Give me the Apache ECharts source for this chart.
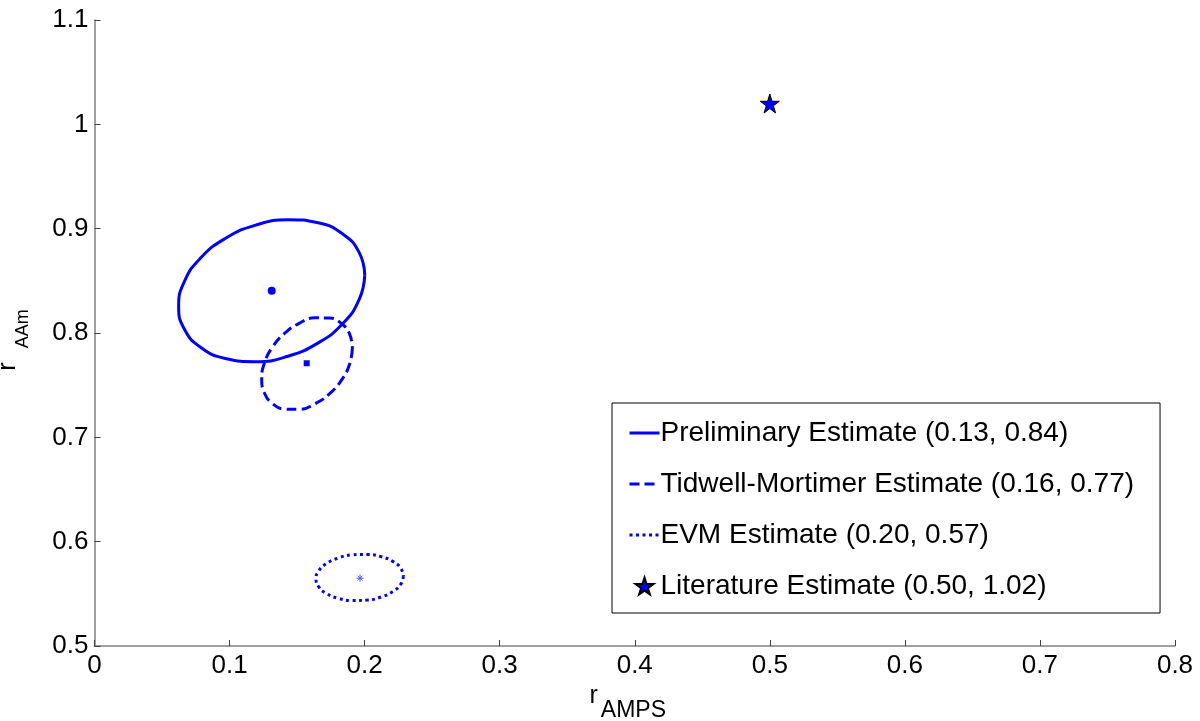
<!DOCTYPE html>
<html>
<head>
<meta charset="utf-8">
<script src="https://cdn.jsdelivr.net/npm/echarts@6/dist/echarts.min.js"></script>
<style>
  html, body { margin: 0; padding: 0; background: #fff; }
  #chart { width: 1200px; height: 721px; }
</style>
</head>
<body>
<div id="chart"></div>
<script>
// legend names
const seriesNames = [
  'Preliminary Estimate (0.13, 0.84)',
  'Tidwell-Mortimer Estimate (0.16, 0.77)',
  'EVM Estimate (0.20, 0.57)',
  'Literature Estimate (0.50, 1.02)'
]

// estimate centres (rAMPS, rAAm)
const preliminaryCenter = [0.1312, 0.8406]
const tidwellCenter = [0.1571, 0.7710]
const evmCenter = [0.1966, 0.5650]
const literaturePoint = [0.50, 1.02]

// confidence region outlines
const preliminaryRegion = [
  [0.2001, 0.8555], [0.1959, 0.8319], [0.1840, 0.8093], [0.1656, 0.7905],
  [0.1432, 0.7777], [0.1193, 0.7725], [0.0968, 0.7756], [0.0785, 0.7864],
  [0.0665, 0.8038], [0.0623, 0.8256], [0.0665, 0.8492], [0.0785, 0.8718],
  [0.0968, 0.8906], [0.1193, 0.9034], [0.1432, 0.9086], [0.1656, 0.9056],
  [0.1840, 0.8947], [0.1959, 0.8773], [0.2001, 0.8555]
]
const tidwellRegion = [
  [0.1909, 0.7855], [0.1889, 0.7703], [0.1830, 0.7551], [0.1741, 0.7419],
  [0.1632, 0.7321], [0.1515, 0.7269], [0.1406, 0.7271], [0.1316, 0.7325],
  [0.1258, 0.7425], [0.1238, 0.7559], [0.1258, 0.7711], [0.1316, 0.7862],
  [0.1406, 0.7995], [0.1515, 0.8093], [0.1632, 0.8145], [0.1741, 0.8143],
  [0.1830, 0.8089], [0.1889, 0.7989], [0.1909, 0.7855]
]
const evmRegion = [
  [0.2287, 0.5670], [0.2268, 0.5593], [0.2211, 0.5524], [0.2125, 0.5471],
  [0.2020, 0.5440], [0.1907, 0.5436], [0.1802, 0.5458], [0.1716, 0.5504],
  [0.1660, 0.5568], [0.1640, 0.5644], [0.1660, 0.5720], [0.1716, 0.5789],
  [0.1802, 0.5842], [0.1907, 0.5873], [0.2020, 0.5878], [0.2125, 0.5855],
  [0.2211, 0.5809], [0.2268, 0.5745], [0.2287, 0.5670]
]

const blue = '#0000ff'
const font = 'Liberation Sans, Arial, sans-serif'
const starPath = 'path://M50,0 L61,35 L98,35 L68,57 L79,91 L50,70 L21,91 L32,57 L2,35 L39,35 Z'
const asteriskPath = 'path://M0,5 L10,5 M5,0 L5,10 M1.5,1.5 L8.5,8.5 M8.5,1.5 L1.5,8.5'

const chart = echarts.init(document.getElementById('chart'))

// line entries show only the line sample, no marker
const lineLegend = name => ({ name: name, itemStyle: { opacity: 0 }, lineStyle: { width: 3 } })

chart.setOption({
  animation: false,
  backgroundColor: '#fff',
  grid: { left: 94.5, right: 25, top: 20, bottom: 75, containLabel: false, outerBoundsMode: 'none' },
  legend: {
    orient: 'vertical',
    left: 612,
    top: 403,
    data: [
      lineLegend(seriesNames[0]),
      lineLegend(seriesNames[1]),
      lineLegend(seriesNames[2]),
      { name: seriesNames[3], itemStyle: { opacity: 1 } }
    ],
    itemWidth: 30,
    itemHeight: 17,
    itemGap: 23,
    padding: [16, 26, 13, 16],
    borderColor: '#000',
    borderWidth: 1,
    borderRadius: 0,
    backgroundColor: '#fff',
    textStyle: { fontFamily: font, fontSize: 28, color: '#000', padding: [0, 0, 0, -4] }
  },
  xAxis: {
    type: 'value',
    min: 0,
    max: 0.8,
    interval: 0.1,
    name: '{r|r}{s|AMPS}',
    nameLocation: 'middle',
    nameGap: 30,
    nameTextStyle: {
      padding: [0, 14, 0, 0],
      rich: {
        r: { fontFamily: font, fontSize: 25, color: '#000', verticalAlign: 'top' },
        s: { fontFamily: font, fontSize: 23, color: '#000', verticalAlign: 'top', padding: [15, 0, 0, 3] }
      }
    },
    splitLine: { show: false },
    axisLine: { lineStyle: { color: '#808080', width: 1.5 } },
    axisTick: { inside: true, length: 6, lineStyle: { color: '#404040' } },
    axisLabel: { fontFamily: font, fontSize: 26, color: '#000', margin: 7 }
  },
  yAxis: {
    type: 'value',
    min: 0.5,
    max: 1.1,
    interval: 0.1,
    name: '{r|r}{s|AAm}',
    nameLocation: 'middle',
    nameRotate: 90,
    nameGap: 62,
    nameTextStyle: {
      padding: [0, 14, 0, 0],
      rich: {
        r: { fontFamily: font, fontSize: 25, color: '#000', verticalAlign: 'top' },
        s: { fontFamily: font, fontSize: 18, color: '#000', verticalAlign: 'top', padding: [19, 0, 0, 14] }
      }
    },
    splitLine: { show: false },
    axisLine: { lineStyle: { color: '#808080', width: 1.5 } },
    axisTick: { inside: true, length: 6, lineStyle: { color: '#404040' } },
    axisLabel: { fontFamily: font, fontSize: 26, color: '#000', margin: 6 }
  },
  series: [
    {
      name: seriesNames[0],
      type: 'line',
      data: preliminaryRegion,
      smooth: 0.5,
      symbol: 'none',
      lineStyle: { color: blue, width: 3, type: 'solid' },
      itemStyle: { color: blue }
    },
    {
      name: seriesNames[1],
      type: 'line',
      data: tidwellRegion,
      smooth: 0.5,
      symbol: 'none',
      lineStyle: { color: blue, width: 3, type: [10, 5] },
      itemStyle: { color: blue }
    },
    {
      name: seriesNames[2],
      type: 'line',
      data: evmRegion,
      smooth: 0.5,
      symbol: 'none',
      lineStyle: { color: blue, width: 3, type: [3, 3.5] },
      itemStyle: { color: blue }
    },
    {
      name: seriesNames[3],
      type: 'scatter',
      data: [literaturePoint],
      symbol: starPath,
      symbolSize: 19,
      itemStyle: { color: blue, borderColor: '#000', borderWidth: 1, opacity: 1 }
    },
    {
      name: 'preliminary centre',
      type: 'scatter',
      data: [preliminaryCenter],
      symbol: 'circle',
      symbolSize: 8,
      itemStyle: { color: blue, opacity: 1 }
    },
    {
      name: 'tidwell centre',
      type: 'scatter',
      data: [tidwellCenter],
      symbol: 'rect',
      symbolSize: 6,
      itemStyle: { color: blue, opacity: 1 }
    },
    {
      name: 'evm centre',
      type: 'scatter',
      data: [evmCenter],
      symbol: asteriskPath,
      symbolSize: 7,
      itemStyle: { color: 'transparent', borderColor: '#5555ff', borderWidth: 1, opacity: 1 }
    }
  ]
})
</script>
</body>
</html>
